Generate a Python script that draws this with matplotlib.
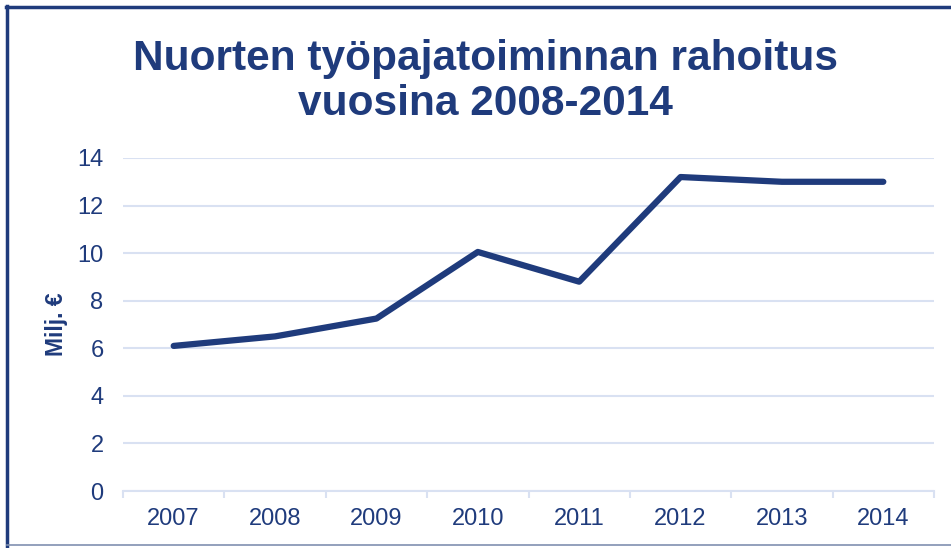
import matplotlib.pyplot as plt
from matplotlib.lines import Line2D

plt.rcParams['font.family'] = ['Liberation Sans', 'DejaVu Sans']

years = ['2007', '2008', '2009', '2010', '2011', '2012', '2013', '2014']
funding = [6.1, 6.5, 7.25, 10.05, 8.8, 13.2, 13.0, 13.0]
yticks = [0, 2, 4, 6, 8, 10, 12, 14]
title_lines = ['Nuorten työpajatoiminnan rahoitus', 'vuosina 2008-2014']
ylabel = 'Milj. €'

navy = '#1F3B7C'
grid_col = '#D9E1F2'

fig = plt.figure(figsize=(9.51, 5.48), dpi=100)
ax = fig.add_axes([123 / 951, 1 - 491 / 548, (934 - 123) / 951, (491 - 158) / 548])

x = list(range(len(years)))
ax.plot(x, funding, color=navy, lw=4.5, solid_capstyle='round', solid_joinstyle='round')

ax.set_xlim(-0.5, len(years) - 0.5)
ax.set_ylim(0, 14)
ax.set_yticks(yticks)
ax.set_xticks(x)
ax.set_xticklabels(years)
ax.set_xticks([i - 0.5 for i in range(len(years) + 1)], minor=True)

ax.grid(axis='y', color=grid_col, lw=1.5)
ax.set_axisbelow(True)
for s in ['top', 'right', 'left']:
    ax.spines[s].set_visible(False)
ax.spines['bottom'].set_color(grid_col)
ax.spines['bottom'].set_linewidth(1.5)

ax.tick_params(axis='y', length=0, pad=14, labelsize=17, labelcolor=navy)
ax.tick_params(axis='x', which='major', length=0, pad=12, labelsize=17, labelcolor=navy)
ax.tick_params(axis='x', which='minor', length=5, width=1.5, color=grid_col)

ax.set_ylabel(ylabel, fontsize=16.5, fontweight='bold', color=navy, labelpad=7)

# title, two lines
fig.text(485 / 951, 1 - 70 / 548, title_lines[0], ha='center', va='baseline',
         fontsize=30.5, fontweight='bold', color=navy)
fig.text(485 / 951, 1 - 115 / 548, title_lines[1], ha='center', va='baseline',
         fontsize=30.5, fontweight='bold', color=navy)

# chart border
fig.add_artist(Line2D([7 / 951, 7 / 951], [0, 1 - 6 / 548], transform=fig.transFigure, color=navy, lw=2.5))
fig.add_artist(Line2D([6 / 951, 1], [1 - 7 / 548, 1 - 7 / 548], transform=fig.transFigure, color=navy, lw=2.5))
fig.add_artist(Line2D([7 / 951, 1], [1 - 545 / 548, 1 - 545 / 548], transform=fig.transFigure, color='#8090B0', lw=1.2))

fig.savefig('out.png', dpi=100)
